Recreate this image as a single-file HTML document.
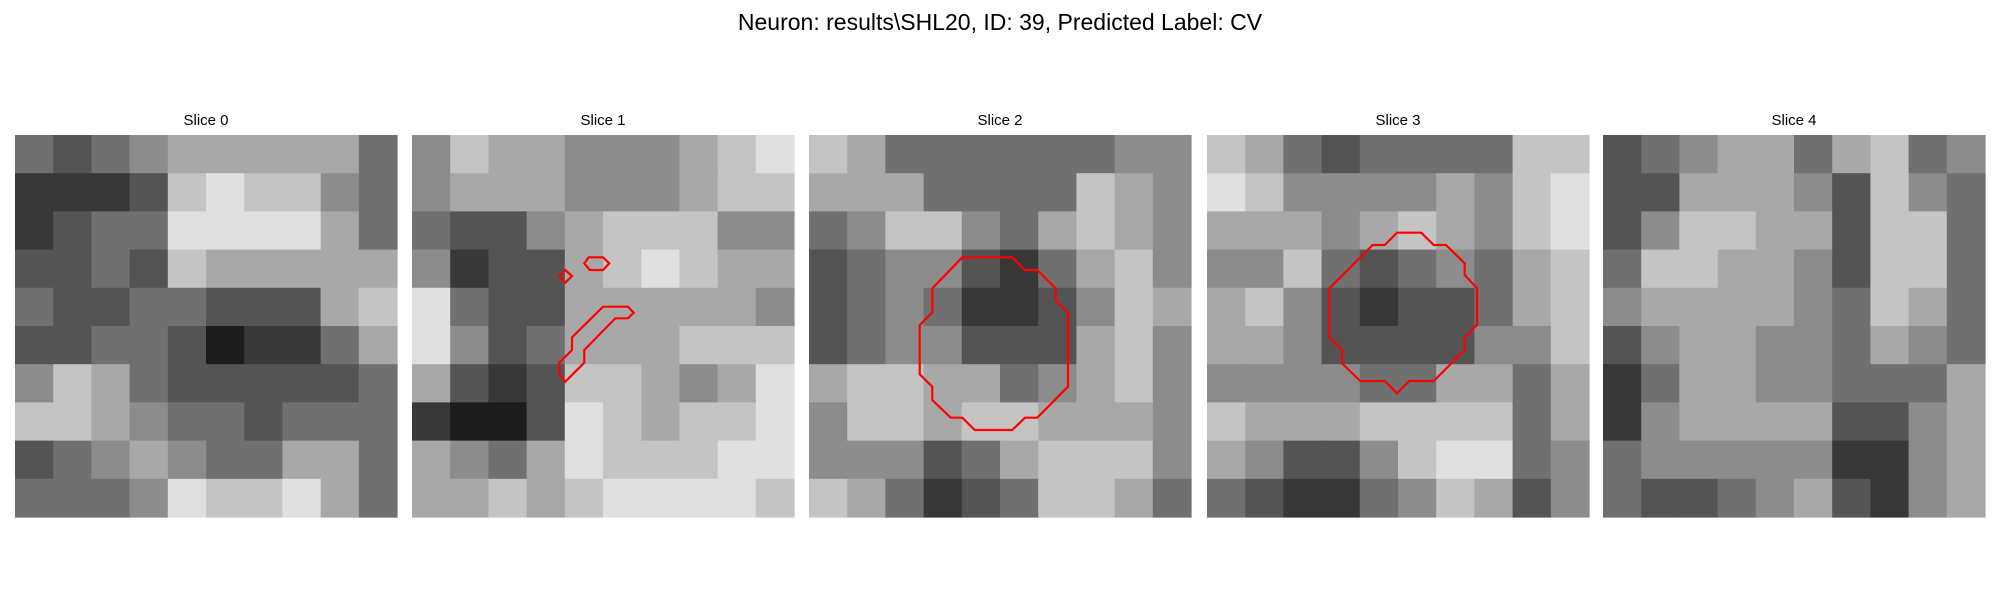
<!DOCTYPE html>
<html><head><meta charset="utf-8"><style>
html,body{margin:0;padding:0;background:#fff;width:2000px;height:600px;overflow:hidden}
svg{display:block}
text{font-family:"Liberation Sans","DejaVu Sans",sans-serif;fill:#000}
</style></head><body>
<svg id="fig" width="2000" height="600" viewBox="0 0 2000 600">
<text x="1000" y="30" text-anchor="middle" font-size="23">Neuron: results\SHL20, ID: 39, Predicted Label: CV</text>
<g id="panels"></g>
</svg>
<script>
const sliceTitles = ["Slice 0","Slice 1","Slice 2","Slice 3","Slice 4"];
const slice0 = ["4345666664","2223787754","2344888864","3343766666","4334433367","3344312246","5764333334","7765443444","3456544664","4445877864"];
const slice1 = ["5766555678","5666555677","4335677755","5233678766","8433666665","8534666777","6323776568","2113876778","6546877788","6676788887"];
const slice2 = ["7644444455","6664444765","4577546765","3455324675","3454223576","3455333675","6776645675","5776776665","5553467775","7642347764"];
const slice3 = ["7643444477","8755556578","6665676578","5574345467","6753233467","6653333557","5555446646","7666777746","6533578845","4322457635"];
const slice4 = ["3456646745","3366653754","3577663774","4776653774","5666654764","3566554654","2466554446","2566663356","4555552256","4334563256"];
const slices = [slice0,slice1,slice2,slice3,slice4];
// contours in units of (panel px * 3)
const contour1 = [
 [[530,367],[573,367],[592,385],[573,405],[533,405],[517,385]],
 [[460,405],[480,423],[460,443],[442,423]],
 [[573,515],[648,515],[665,533],[648,550],[610,550],[517,645],[517,683],[460,740],[442,718],[442,683],[480,645],[480,607]]
];
const contour2 = [[[460,367],[610,367],[648,405],[685,405],[740,460],[740,497],[777,533],[777,755],[685,848],[648,848],[610,885],[497,885],[460,848],[425,848],[370,795],[370,755],[332,718],[332,570],[370,533],[370,460]]];
const contour3 = [[[570,293],[643,293],[680,330],[717,330],[773,385],[773,420],[810,460],[810,570],[773,607],[773,645],[680,738],[607,738],[570,775],[533,738],[460,738],[405,685],[405,645],[367,607],[367,460],[497,330],[533,330]]];
const contours = [[],contour1,contour2,contour3,[]];

const NS="http://www.w3.org/2000/svg";
const panelX=[15,412,809,1207,1603], panelY=135, size=382;
const g=document.getElementById('panels');
slices.forEach((rows,i)=>{
  const pg=document.createElementNS(NS,'g');
  
  
  g.appendChild(pg);
  const t=document.createElementNS(NS,'text');
  
  
  t.setAttribute('x',panelX[i]+size/2);t.setAttribute('y',125);
  t.setAttribute('text-anchor','middle');t.setAttribute('font-size','15');
  t.textContent=sliceTitles[i];pg.appendChild(t);
  const n=rows.length, c=size/n;
  rows.forEach((row,r)=>{
    for(let k=0;k<row.length;k++){
      const v=Math.min(255,Math.round(+row[k]*28));
      const rc=document.createElementNS(NS,'rect');
      
      
      rc.setAttribute('x',(panelX[i]+k*c).toFixed(2));
      rc.setAttribute('y',(panelY+r*c).toFixed(2));
      rc.setAttribute('width',(c+0.6).toFixed(2));
      rc.setAttribute('height',(c+0.6).toFixed(2));
      rc.setAttribute('fill','rgb('+v+','+v+','+v+')');
      pg.appendChild(rc);
    }
  });
  contours[i].forEach(poly=>{
    const p=document.createElementNS(NS,'polygon');
    
    
    p.setAttribute('points',poly.map(q=>(panelX[i]+q[0]/3).toFixed(1)+','+(panelY+q[1]/3).toFixed(1)).join(' '));
    p.setAttribute('fill','none');p.setAttribute('stroke','#ff0000');p.setAttribute('stroke-width','2.2');
    pg.appendChild(p);
  });
});
</script>
</body></html>
